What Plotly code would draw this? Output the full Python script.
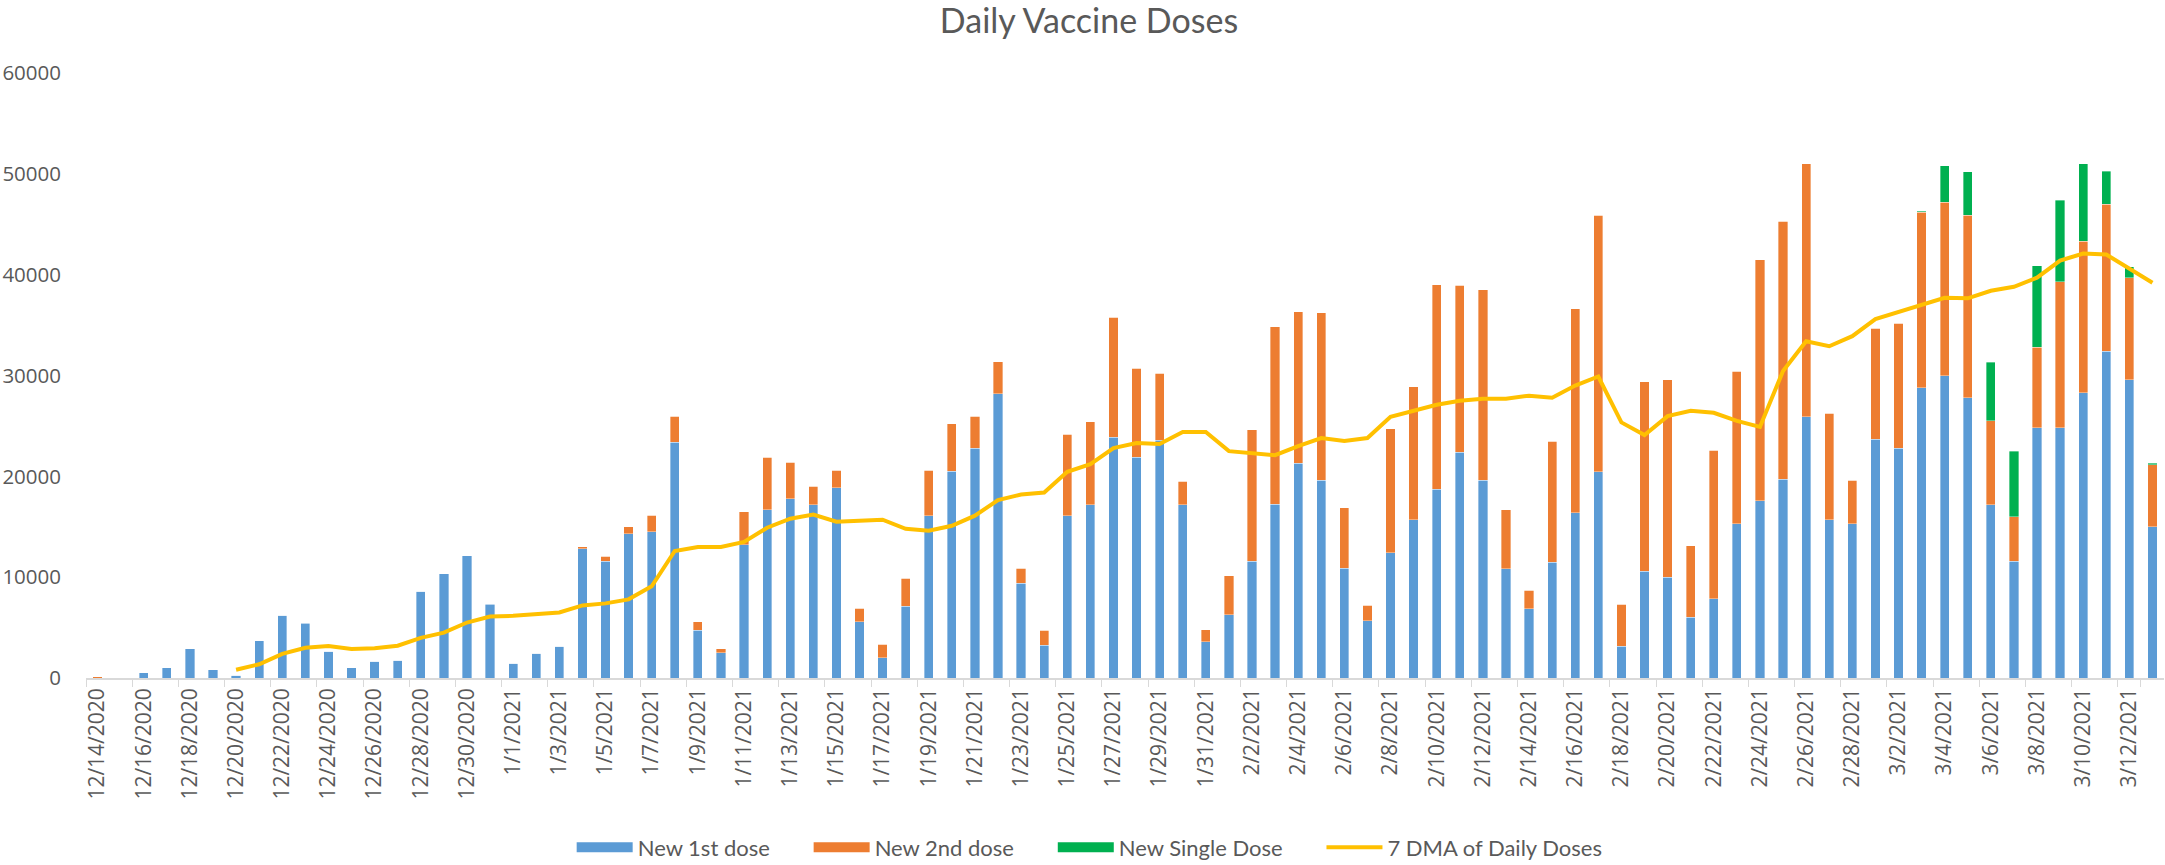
import pandas as pd
import plotly.graph_objects as go

dates = [d.strftime("%-m/%-d/%Y") for d in pd.date_range("2020-12-14", "2021-03-13")]

first_dose = [0, 0, 535, 1030, 2880, 820, 290, 3700, 6210, 5420,
              2670, 1030, 1650, 1770, 8600, 10330, 12140, 7330, 1440, 2470,
              3170, 12800, 11600, 14300, 14500, 23400, 4730, 2510, 13200, 16700,
              17800, 17200, 18850, 5600, 2000, 7100, 16100, 20500, 22800, 28200,
              9400, 3250, 16100, 17200, 23900, 21900, 23600, 17200, 3620, 6260,
              11560, 17240, 21300, 19600, 10900, 5700, 12400, 15700, 18700, 22400,
              19600, 10860, 6870, 11500, 16400, 20450, 3170, 10600, 10000, 6050,
              7860, 15300, 17600, 19700, 25900, 15700, 15300, 23700, 22800, 28800,
              30000, 27800, 17200, 11600, 24800, 24800, 28300, 32400, 29600, 15000]

second_dose = [100, 0, 0, 0, 0, 0, 0, 0, 0, 60,
               0, 0, 0, 0, 0, 0, 0, 50, 0, 0,
               0, 200, 460, 700, 1630, 2570, 870, 410, 3300, 5200,
               3600, 1800, 1750, 1300, 1330, 2800, 4500, 4700, 3170, 3160,
               1500, 1480, 8060, 8200, 11900, 8800, 6600, 2300, 1150, 3900,
               13040, 17620, 15000, 16600, 6000, 1540, 12300, 13200, 20300, 16570,
               18900, 5840, 1850, 12000, 20200, 25450, 4160, 18800, 19600, 7050,
               14740, 15100, 23900, 25600, 25100, 10550, 4300, 11000, 12400, 17400,
               17200, 18100, 8300, 4400, 8000, 14500, 15000, 14600, 10100, 6150]

single_dose = [0] * 79 + [100, 3600, 4300, 5800, 6500, 8100, 8100, 7700, 3250, 1100, 150]

dma_7 = [None] * 6 + [820, 1360, 2390, 3000, 3170, 2880, 2960, 3200, 3980, 4500,
                      5500, 6100, 6170, 6300, 6500, 7200, 7400, 7800, 9100, 12600,
                      13000, 13000, 13500, 14900, 15800, 16200, 15500, 15600, 15700, 14800,
                      14600, 15100, 16100, 17650, 18200, 18400, 20450, 21200, 22800, 23300,
                      23200, 24400, 24400, 22500, 22300, 22100, 23000, 23800, 23500, 23800,
                      25900, 26500, 27100, 27500, 27700, 27700, 28000, 27800, 29000, 29900,
                      25350, 24100, 25970, 26500, 26300, 25500, 24900, 30450, 33400, 32900,
                      33900, 35600, 36300, 36900, 37700, 37650, 38400, 38800, 39700, 41400,
                      42100, 42000, 40600, 39200]

y_ticks = [0, 10000, 20000, 30000, 40000, 50000, 60000]
x_ticks = dates[::2]

series_names = ["New 1st dose", "New 2nd dose", "New Single Dose"]
series_colors = ["#5B9BD5", "#ED7D31", "#00B050"]
series_values = [first_dose, second_dose, single_dose]

TEXT = "#595959"
FONT = "Lato"
PAD = "\u00a0" * 6

fig = go.Figure()
bar_line = dict(color="rgba(255,255,255,0.6)", width=0.6)
for name, color, vals in zip(series_names, series_colors, series_values):
    fig.add_trace(go.Bar(x=dates, y=vals, name=name, legendgroup=name, showlegend=False,
                         marker=dict(color=color, line=bar_line)))
# legend entries drawn as wide swatches
for name, color in zip(series_names, series_colors):
    fig.add_trace(go.Scatter(x=[dates[0]], y=[None], name=name + PAD, legendgroup=name,
                             mode="lines", line=dict(color=color, width=26),
                             hoverinfo="skip"))
fig.add_trace(go.Scatter(x=dates, y=dma_7, name="7 DMA of Daily Doses", mode="lines",
                         line=dict(color="#FFC000", width=4)))

fig.update_layout(
    width=2165, height=865,
    barmode="stack", bargap=0.6,
    paper_bgcolor="white", plot_bgcolor="white",
    margin=dict(l=86, r=1, t=73, b=187, autoexpand=False),
    title=dict(text="Daily Vaccine Doses", x=0.503, xref="container", xanchor="center",
               y=0.976, yref="container", yanchor="middle",
               font=dict(family=FONT, size=34, color=TEXT)),
    font=dict(family=FONT, color=TEXT),
    legend=dict(orientation="h", x=0.483, xanchor="center", y=-0.28, yanchor="middle",
                font=dict(family=FONT, size=22, color=TEXT), traceorder="normal",
                itemwidth=56),
    showlegend=True,
)
fig.update_xaxes(
    type="category", range=[-0.5, len(dates) - 0.5], tickmode="array",
    tickvals=x_ticks, ticktext=x_ticks, automargin=False,
    tickangle=-90, tickson="boundaries", ticks="outside", ticklen=7,
    tickcolor="#D9D9D9", showline=True, linecolor="#D9D9D9", linewidth=1.5,
    showgrid=False, tickfont=dict(family="Open Sans", size=21, color=TEXT),
)
fig.update_yaxes(
    range=[0, 60000], tickmode="array", tickvals=y_ticks, automargin=False,
    ticktext=[str(v) for v in y_ticks], showgrid=False, zeroline=False,
    showline=False, ticks="", ticklabelstandoff=24,
    tickfont=dict(family="Open Sans", size=20.5, color=TEXT),
)

fig.write_html(
    "out.html",
    config={"displayModeBar": False},
    post_script="document.body.style.margin='0';document.body.style.overflow='hidden';",
)
